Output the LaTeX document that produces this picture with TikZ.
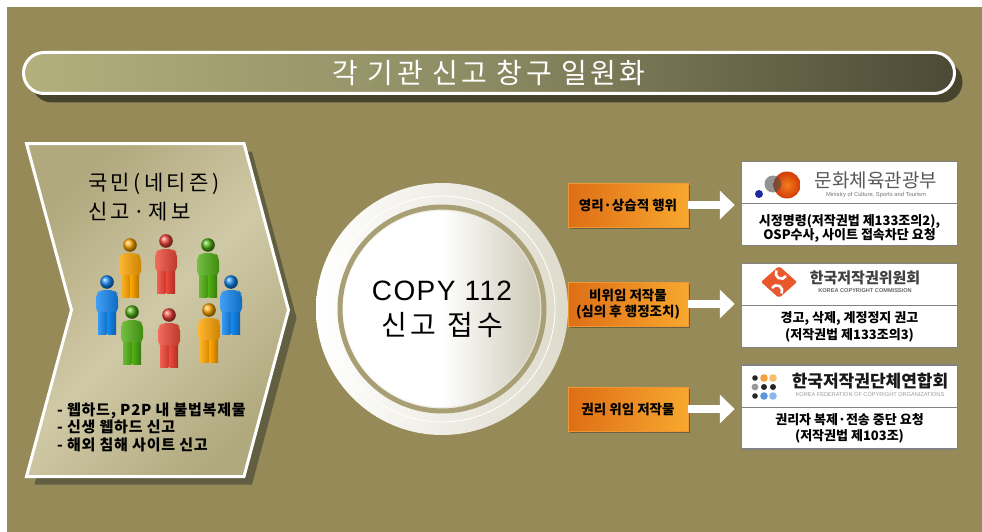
\documentclass[tikz,border=0pt]{standalone}
\usepackage{fontspec}
\setmainfont{Noto Sans CJK KR}
\newfontfamily\latinfont{Liberation Sans}
\usetikzlibrary{arrows.meta,positioning,calc,shadows,backgrounds}

\definecolor{olivebg}{RGB}{150,139,88}
\definecolor{titleL}{RGB}{178,176,124}
\definecolor{titleM}{RGB}{140,138,98}
\definecolor{titleR}{RGB}{76,74,54}
\definecolor{titleshadow}{RGB}{72,67,44}
\definecolor{chevD}{RGB}{176,169,126}
\definecolor{chevL}{RGB}{208,201,166}
\definecolor{chevshadow}{RGB}{98,94,66}
\definecolor{ringR}{RGB}{222,219,204}
\definecolor{ringolive}{RGB}{168,160,116}
\definecolor{discR}{RGB}{205,201,182}
\definecolor{kindL}{RGB}{222,110,22}
\definecolor{kindR}{RGB}{248,168,46}
\definecolor{kindedge}{RGB}{240,150,50}
\definecolor{boxgray}{RGB}{130,130,130}
\definecolor{pOrange}{RGB}{255,165,0}
\definecolor{pRed}{RGB}{238,70,55}
\definecolor{pGreen}{RGB}{80,175,20}
\definecolor{pBlue}{RGB}{20,135,240}
\definecolor{mcstred}{RGB}{210,60,10}
\definecolor{mcstorange}{RGB}{245,125,25}
\definecolor{mcstblue}{RGB}{30,40,160}
\definecolor{kccred}{RGB}{232,88,44}
\definecolor{dotorange}{RGB}{245,160,60}
\definecolor{dotorangeL}{RGB}{250,190,100}
\definecolor{dotblue}{RGB}{95,150,220}
\definecolor{dotblueL}{RGB}{140,185,235}

\tikzset{
  titlebar/.style={draw=white, line width=3pt, rounded corners=20.5pt,
    minimum width=931pt, minimum height=41pt, inner sep=0pt,
    left color=titleL, right color=titleR, middle color=titleM,
    text=white, font=\fontsize{28}{30}\selectfont,
    drop shadow={shadow xshift=8pt, shadow yshift=-9pt, fill=titleshadow, opacity=1}},
  chev/.style={draw=white, line width=3pt,
    top color=chevD, bottom color=chevD, middle color=chevL, shading angle=45,
    drop shadow={shadow xshift=8pt, shadow yshift=-8pt, fill=chevshadow, opacity=1}},
  kindbox/.style={left color=kindL, right color=kindR, draw=kindedge, line width=0.6pt,
    minimum width=120pt, minimum height=44pt, inner sep=0pt, align=center,
    font=\bfseries\fontsize{13.5}{16}\selectfont,
    drop shadow={shadow xshift=2pt, shadow yshift=-2pt, fill=black, opacity=.3}},
  orgbox/.style={draw=boxgray, line width=1.5pt, fill=white,
    minimum width=216pt, minimum height=84pt, inner sep=0pt},
  note/.style={align=center, inner sep=0pt, font=\bfseries\fontsize{13}{15}\selectfont},
  wline/.style={draw=white, line width=8pt},
  warrow/.style={draw=white, line width=8pt, shorten >=6pt,
    -{Triangle[length=15pt,width=28pt]}},
}

% one little figure of the crowd: x, y (head centre), colour
\newcommand\drawperson[3]{%
  \begin{scope}[shift={(#1,#2)}]
    \shade[left color=#3!80!white, right color=#3!80!black, rounded corners=5pt]
      (-11,31) -- (-11,12) -- (-7,8) -- (7,8) -- (11,12) -- (11,31) -- cycle;
    \shade[left color=#3!85!white, right color=#3!85!black]
      (-9,30) rectangle (-0.7,52);
    \shade[left color=#3, right color=#3!70!black]
      (0.7,30) rectangle (9,52);
    \shade[ball color=#3] (0,0) circle (6.8);
  \end{scope}}

\begin{document}
\begin{tikzpicture}[x=1pt, y=-1pt]
\useasboundingbox (0,0) rectangle (982,532);
\fill[white] (0,0) rectangle (982,532);
\fill[olivebg] (7,7) rectangle (982,532);

% heading
\node[titlebar] (title) at (489,73) {\addfontfeature{LetterSpace=12}각 기관 신고 창구 일원화};

% reporters
\path[chev] (26.5,143.5) -- (244,143.5) -- (288.5,310) -- (244,476.5)
  -- (26.5,476.5) -- (71.5,310) -- cycle;
\node[anchor=west, align=left, inner sep=0pt,
  font=\fontsize{21}{29}\selectfont] (citizen) at (88,197)
  {\addfontfeature{LetterSpace=16}국민(네티즌)\\\addfontfeature{LetterSpace=16}신고·제보};
\foreach \px/\py/\pc in {130/245/pOrange, 166/241/pRed, 208/245/pGreen,
  107/282/pBlue, 231/282/pBlue,
  132/312/pGreen, 169/315/pRed, 209/310/pOrange}
  \drawperson{\px}{\py}{\pc};
\node[anchor=west, align=left, inner sep=0pt,
  font=\bfseries\fontsize{15}{17.5}\selectfont\addfontfeature{LetterSpace=5}] (cases) at (57,427)
  {- 웹하드, P2P 내 불법복제물\\- 신생 웹하드 신고\\- 해외 침해 사이트 신고};

% COPY 112 hub
\node[circle, minimum size=252pt, inner sep=0pt,
  left color=white, right color=ringR] (copy) at (442,309) {};
\draw[white, line width=0.8pt] (copy.center) circle (113);
\draw[ringolive, line width=5pt] (copy.center) circle (102);
\node[circle, minimum size=196pt, inner sep=0pt,
  left color=white, right color=discR, middle color=white,
  align=center, font=\fontsize{28}{35}\selectfont] (copytxt) at (copy.center)
  {{\latinfont\addfontfeature{LetterSpace=5}COPY 112}\\{\addfontfeature{LetterSpace=15}신고 접수}};

% kinds of works
\node[kindbox] (kind1) at (628,205) {영리·상습적 행위};
\node[kindbox] (kind2) at (628,304) {비위임 저작물\\(심의 후 행정조치)};
\node[kindbox] (kind3) at (628,409) {권리 위임 저작물};

% agencies
\node[orgbox] (mcst) at (849.5,203.5) {};
\node[orgbox] (kcc) at (849.5,305.5) {};
\node[orgbox] (fkco) at (849.5,407) {};
\foreach \org in {mcst,kcc,fkco}
  \draw[boxgray, line width=1pt] (\org.west) -- (\org.east);

% Ministry of Culture, Sports and Tourism
\fill[mcstblue] (759,194) circle (4);
\shade[inner color=mcstorange, outer color=mcstred] (787,185) circle (13.5);
\fill[black!70, opacity=.6] (773,184) circle (8.5);
\node[text=black!65, inner sep=0pt, font=\fontsize{19}{20}\selectfont]
  (mcstname) at (876,180) {문화체육관광부};
\node[text=black!55, inner sep=0pt, font=\latinfont\fontsize{5.8}{6}\selectfont,
  below=3pt of mcstname] (mcsten) {Ministry of Culture, Sports and Tourism};
\node[note, font=\bfseries\fontsize{13}{13.5}\selectfont] (mcstnote) at (849.5,228.5)
  {시정명령(저작권법 제133조의2),\\OSP수사, 사이트 접속차단 요청};

% Korea Copyright Commission
\fill[kccred, rounded corners=2pt] (761,282) -- (779,266) -- (797,282) -- (779,298) -- cycle;
\draw[white, line width=2.6pt] (786,276) arc (30:210:5.5);
\draw[white, line width=2.6pt] (772,288) arc (210:390:5.5);
\node[text=black!75, inner sep=0pt, font=\bfseries\fontsize{15}{17}\selectfont]
  (kccname) at (865,278) {한국저작권위원회};
\node[text=black!60, inner sep=0pt, font=\latinfont\bfseries\fontsize{5.6}{6}\selectfont,
  below=3pt of kccname] (kccen) {KOREA COPYRIGHT COMMISSION};
\node[note, font=\bfseries\fontsize{13}{17}\selectfont] (kccnote) at (849.5,326.5)
  {경고, 삭제, 계정정지 권고\\(저작권법 제133조의3)};

% Federation of Korean Copyright Organizations
\foreach \dx/\dy/\dc/\dr in {755/378/black!85/2.8, 764/378/dotorange/3.8, 773/378/dotorangeL/3.8,
  755/387/black!40/3.4, 764/387/black!85/3, 773/387/black!85/3,
  755/396/black!85/2.8, 764/396/dotblue/3.8, 773/396/dotblueL/3.8}
  \fill[\dc] (\dx,\dy) circle (\dr);
\node[text=black!90, inner sep=0pt, font=\bfseries\fontsize{17}{18}\selectfont]
  (fkconame) at (870,381) {한국저작권단체연합회};
\node[text=black!40, inner sep=0pt, font=\latinfont\fontsize{5.6}{6}\selectfont,
  below=3pt of fkconame] (fkcoen) {KOREA FEDERATION OF COPYRIGHT ORGANIZATIONS};
\node[note, font=\bfseries\fontsize{13}{16}\selectfont] (fkconote) at (849.5,428)
  {권리자 복제·전송 중단 요청\\(저작권법 제103조)};

% connectors behind the hub and the boxes
\begin{scope}[on background layer]
  \foreach \k in {kind1,kind2,kind3}
    \draw[wline] (copy.center |- \k) -- (\k);
\end{scope}
\draw[warrow] (kind1.east) -- (kind1.east -| mcst.west);
\draw[warrow] (kind2.east) -- (kind2.east -| kcc.west);
\draw[warrow] (kind3.east) -- (kind3.east -| fkco.west);
\end{tikzpicture}
\end{document}
